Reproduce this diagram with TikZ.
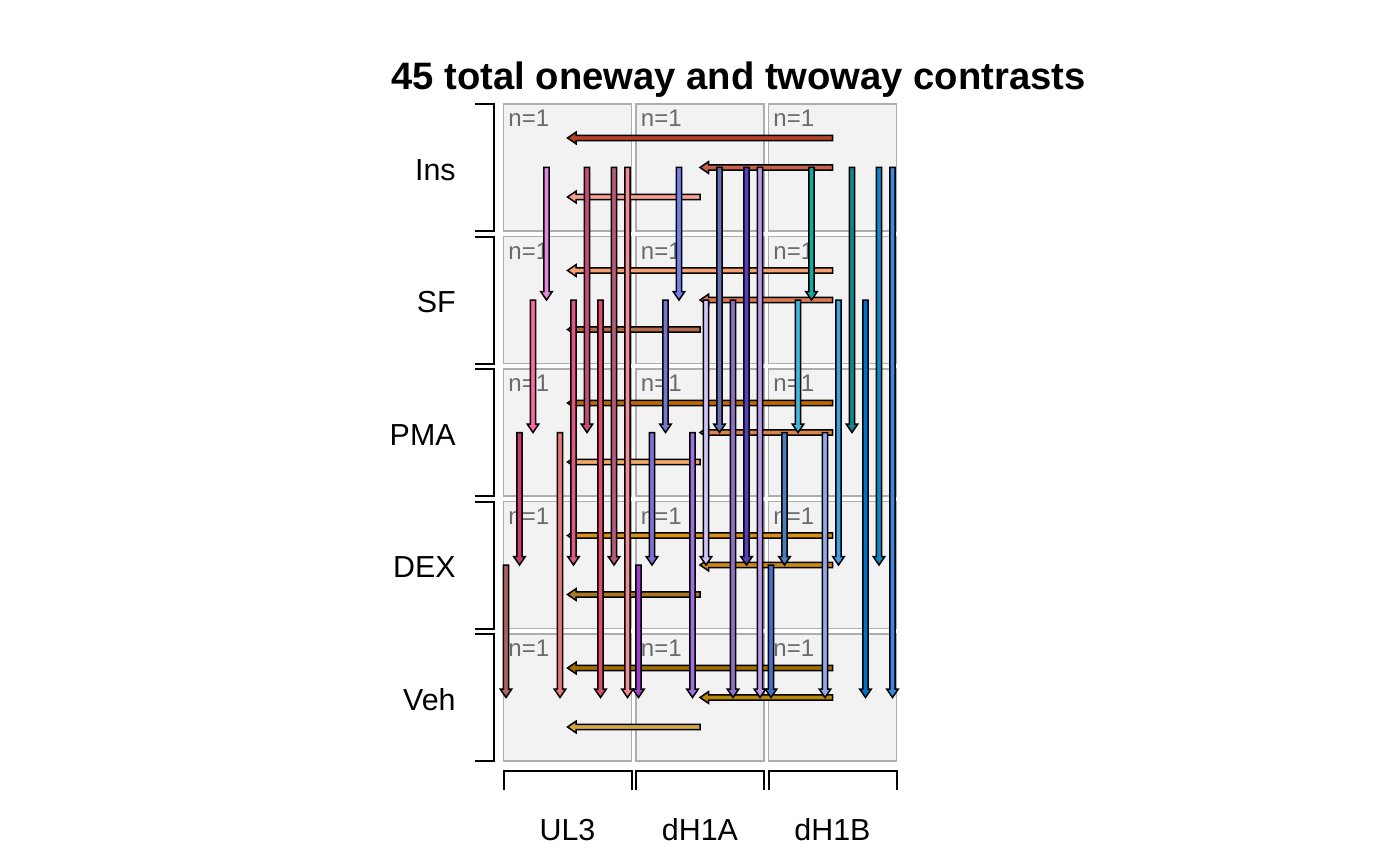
\documentclass[tikz,border=0pt]{standalone}
\usepackage{fontspec}
\setmainfont{Liberation Sans}
\tikzset{
  fatarrow/.style={draw=black, line width=0.75pt, fill=arrfill, line join=miter},
  cellbox/.style={draw=black!32, fill=black!5, line width=0.75pt},
  bracket/.style={draw=black, line width=1pt},
  nlabel/.style={text=black!58, font=\fontsize{12}{14}\selectfont, anchor=base west, inner sep=0pt},
  axlabel/.style={font=\fontsize{15.2}{18}\selectfont, inner sep=0pt},
}
\newcommand\harr[4]{\definecolor{arrfill}{HTML}{#4}%
  \filldraw[fatarrow] (#2,#1-2.7) -- (#3+8.5,#1-2.7) -- (#3+8.5,#1-5.8) -- (#3,#1) -- (#3+8.5,#1+5.8) -- (#3+8.5,#1+2.7) -- (#2,#1+2.7) -- cycle;}
\newcommand\varr[4]{\definecolor{arrfill}{HTML}{#4}%
  \filldraw[fatarrow] (#1-2.7,#2) -- (#1-2.7,#3-8.5) -- (#1-5.8,#3-8.5) -- (#1,#3) -- (#1+5.8,#3-8.5) -- (#1+2.7,#3-8.5) -- (#1+2.7,#2) -- cycle;}
\begin{document}
\begin{tikzpicture}[x=0.5pt,y=-0.5pt]
\useasboundingbox (0,0) rectangle (1400,866);
% title
\node[font=\bfseries\fontsize{19.1}{23}\selectfont, inner sep=0pt] (title) at (738.5,80) {45 total oneway and twoway contrasts};
% cells
\foreach \cx [count=\c] in {503.5,636,768.5}{
  \foreach \ry [count=\r] in {104,236.5,369,501.5,634}{
    \draw[cellbox] (\cx,\ry) rectangle (\cx+128,\ry+127);
    \node[nlabel] (n\c\r) at (\cx+4.5,\ry+22.5) {n=1};
  }
}
% left brackets and row labels
\foreach \ry/\lab [count=\r] in {104/Ins,236.5/SF,369/PMA,501.5/DEX,634/Veh}{
  \draw[bracket] (475,\ry) -- (494,\ry) -- (494,\ry+127) -- (475,\ry+127);
  \node[axlabel, anchor=east] (row\r) at (456,\ry+66) {\lab};
}
% bottom brackets and column labels
\foreach \cx/\lab [count=\c] in {503.5/UL3,636/dH1A,768.5/dH1B}{
  \draw[bracket] (\cx,790) -- (\cx,771) -- (\cx+128,771) -- (\cx+128,790);
  \node[axlabel] (col\c) at (\cx+64,830) {\lab};
}
% horizontal contrasts
\harr{138}{832.5}{567.5}{B5432A}
\harr{167.5}{832.5}{700}{C6614E}
\harr{197}{700}{567.5}{F9A08F}
\harr{270.5}{832.5}{567.5}{F8A070}
\harr{300}{832.5}{700}{D87850}
\harr{329.5}{700}{567.5}{B36A48}
\harr{403}{832.5}{567.5}{C06800}
\harr{432.5}{832.5}{700}{D8864C}
\harr{462}{700}{567.5}{F2A868}
\harr{535.5}{832.5}{567.5}{D8901A}
\harr{565}{832.5}{700}{C88A14}
\harr{594.5}{700}{567.5}{A8782A}
\harr{668}{832.5}{567.5}{A06E00}
\harr{697.5}{832.5}{700}{B8860B}
\harr{727}{700}{567.5}{D4A840}
% vertical contrasts, UL3
\varr{506}{565}{697.5}{B06060}
\varr{519.5}{432.5}{565}{C83C6A}
\varr{533}{300}{432.5}{FF66A8}
\varr{546.5}{167.5}{300}{E28AE0}
\varr{560}{432.5}{697.5}{E87878}
\varr{573.5}{300}{565}{E05A80}
\varr{587}{167.5}{432.5}{C94A7D}
\varr{600.5}{300}{697.5}{D8506A}
\varr{614}{167.5}{565}{B8587A}
\varr{627.5}{167.5}{697.5}{F58A96}
% dH1A
\varr{638.5}{565}{697.5}{A040C8}
\varr{652}{432.5}{565}{8070D8}
\varr{665.5}{300}{432.5}{7078D0}
\varr{679}{167.5}{300}{7083F2}
\varr{692.5}{432.5}{697.5}{A070E0}
\varr{706}{300}{565}{D0C4F8}
\varr{719.5}{167.5}{432.5}{6470B4}
\varr{733}{300}{697.5}{9070C8}
\varr{746.5}{167.5}{565}{5540C0}
\varr{760}{167.5}{697.5}{B89AEA}
% dH1B
\varr{771}{565}{697.5}{4070D0}
\varr{784.5}{432.5}{565}{4A80B8}
\varr{798}{300}{432.5}{40B8E0}
\varr{811.5}{167.5}{300}{18A8A0}
\varr{825}{432.5}{697.5}{90A8F0}
\varr{838.5}{300}{565}{40A0E8}
\varr{852}{167.5}{432.5}{108890}
\varr{865.5}{300}{697.5}{0070C8}
\varr{879}{167.5}{565}{0A88C8}
\varr{892.5}{167.5}{697.5}{3C8AE0}
\end{tikzpicture}
\end{document}
